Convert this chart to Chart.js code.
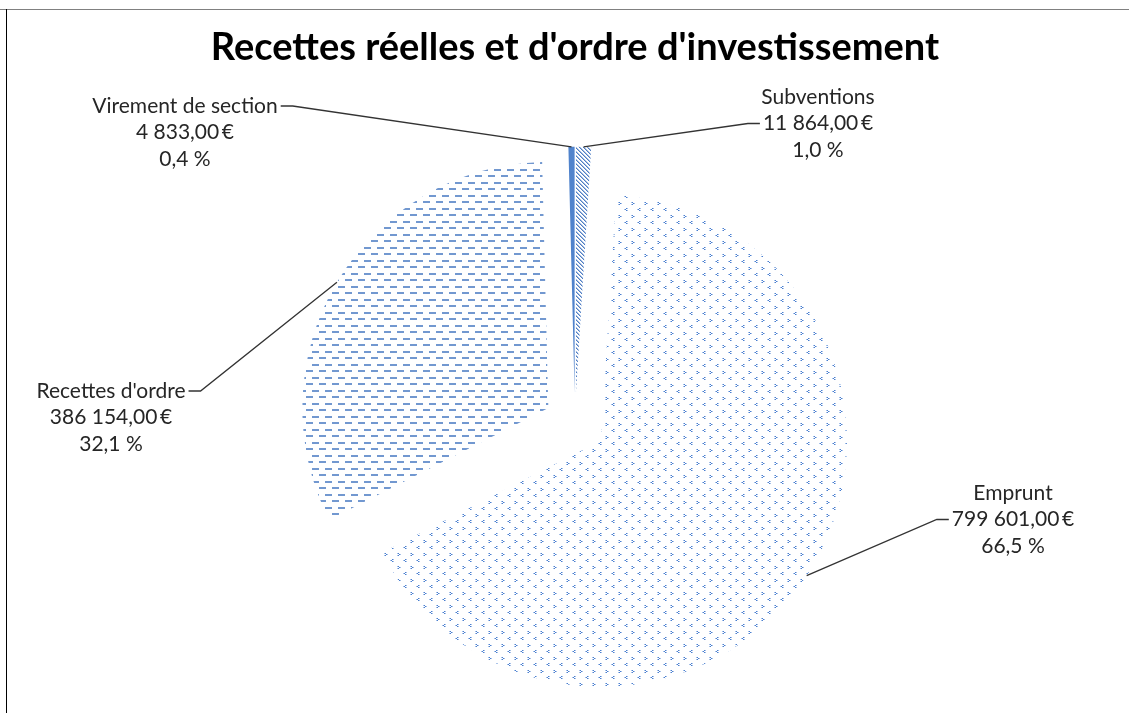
<!DOCTYPE html>
<html>
<head>
<meta charset="utf-8">
<title>Recettes réelles et d'ordre d'investissement</title>
<script src="https://cdn.jsdelivr.net/npm/chart.js@4.4.1/dist/chart.umd.min.js"></script>
<style>
body{margin:0;background:#fff;overflow:hidden}
#frame-top{position:absolute;left:0;top:9px;width:1129px;height:0;border-top:1px solid #808080}
#frame-left{position:absolute;left:6px;top:9px;width:0;height:704px;border-left:1px solid #000}
#myChart{position:absolute;left:0;top:0}
</style>
</head>
<body>
<div id="frame-top"></div>
<div id="frame-left"></div>
<canvas id="myChart" width="1129" height="713"></canvas>
<script>
// data, clockwise from 12 o'clock
const categories=['Subventions','Emprunt',"Recettes d'ordre",'Virement de section']
const amounts=[11864,799601,386154,4833]
const chartTitle="Recettes réelles et d'ordre d'investissement"

// where each label block sits and which line/side the leader line joins
const labelSpots=[
    {x:818,y:97,line:1,side:'left'},
    {x:1013,y:493,line:1,side:'left'},
    {x:111,y:391,line:0,side:'right'},
    {x:185,y:106,line:0,side:'right'}
]

const total=amounts.reduce((a,b)=>a+b,0)

function euro(v){
    const parts=v.toFixed(2).split('.')
    return parts[0].replace(/\B(?=(\d{3})+(?!\d))/g,' ')+','+parts[1]+'\u2009€'
}
function pct(v){
    return (v/total*100).toFixed(1).replace('.',',')+' %'
}

const blue='#4f7ec4'
function makePattern(w,h,draw){
    const c=document.createElement('canvas')
    c.width=w
    c.height=h
    const g=c.getContext('2d')
    g.fillStyle=blue
    draw(g)
    return c.getContext('2d').createPattern(c,'repeat')
}

// diagonal hatch
const hatch=makePattern(4,4,g=>{
    for(let i=0;i<4;i++){
        g.fillRect(i,i,1,1)
        g.globalAlpha=0.5
        g.fillRect((i+1)%4,i,1,1)
        g.globalAlpha=1
    }
})
// small chevrons, "<" and ">" on alternate rows
const chevrons=makePattern(13,13,g=>{
    g.fillStyle='#4a7fd0'
    g.fillRect(2,0,1,1);g.fillRect(1,1,1,1);g.fillRect(2,2,1,1)
    g.fillRect(8,7,1,1);g.fillRect(9,8,1,1);g.fillRect(8,9,1,1)
    g.globalAlpha=0.5
    g.fillRect(3,0,1,1);g.fillRect(0,1,1,1);g.fillRect(3,2,1,1)
    g.fillRect(7,7,1,1);g.fillRect(10,8,1,1);g.fillRect(7,9,1,1)
})
// horizontal dashes
const dashes=makePattern(13,13,g=>{
    g.globalAlpha=0.8
    g.fillRect(0,0,7,2)
    g.fillRect(7,6,6,2)
    g.fillRect(0,6,1,2)
})

const sliceFills=[hatch,chevrons,dashes,'#5083cc']

const explode={
    id:'explode',
    afterDatasetUpdate(chart,args,opts){
        const meta=chart.getDatasetMeta(args.index)
        meta.data.forEach(arc=>{
            const mid=(arc.startAngle+arc.endAngle)/2
            arc.x+=Math.cos(mid)*opts.distance
            arc.y+=Math.sin(mid)*opts.distance
        })
    }
}

const sliceLabels={
    id:'sliceLabels',
    afterDatasetsDraw(chart,args,opts){
        const ctx=chart.ctx
        const meta=chart.getDatasetMeta(0)
        ctx.save()
        ctx.font=opts.font
        ctx.fillStyle=opts.color
        ctx.strokeStyle=opts.lineColor
        ctx.lineWidth=1.3
        ctx.textAlign='center'
        ctx.textBaseline='middle'
        meta.data.forEach((arc,i)=>{
            const spot=labelSpots[i]
            const lines=[categories[i],euro(amounts[i]),pct(amounts[i])]
            lines.forEach((t,k)=>ctx.fillText(t,spot.x,spot.y+k*opts.lineHeight))
            const mid=(arc.startAngle+arc.endAngle)/2
            const px=arc.x+Math.cos(mid)*arc.outerRadius
            const py=arc.y+Math.sin(mid)*arc.outerRadius
            const ly=spot.y+spot.line*opts.lineHeight
            const w=ctx.measureText(lines[spot.line]).width
            const dir=spot.side==='right'?1:-1
            const ex=spot.x+dir*(w/2+3)
            ctx.beginPath()
            ctx.moveTo(ex,ly)
            ctx.lineTo(ex+dir*opts.elbow,ly)
            ctx.lineTo(px,py)
            ctx.stroke()
        })
        ctx.restore()
    }
}

const ctx=document.getElementById('myChart')
const myChart=new Chart(ctx,{
    type:'pie',
    data:{
        labels:categories,
        datasets:[{
            data:amounts,
            backgroundColor:sliceFills,
            borderWidth:0
        }]
    },
    options:{
        responsive:false,
        animation:false,
        radius:246,
        layout:{padding:{top:22,left:21,right:0,bottom:0}},
        plugins:{
            legend:{display:false},
            tooltip:{enabled:false},
            title:{
                display:true,
                text:chartTitle,
                color:'#000',
                font:{family:'Lato',size:38,weight:'bold'},
                padding:{top:3,bottom:64}
            },
            explode:{distance:31},
            sliceLabels:{
                font:'21px Lato',
                color:'#262626',
                lineColor:'#333',
                lineHeight:26.5,
                elbow:12
            }
        }
    },
    plugins:[explode,sliceLabels]
})
</script>
</body>
</html>
